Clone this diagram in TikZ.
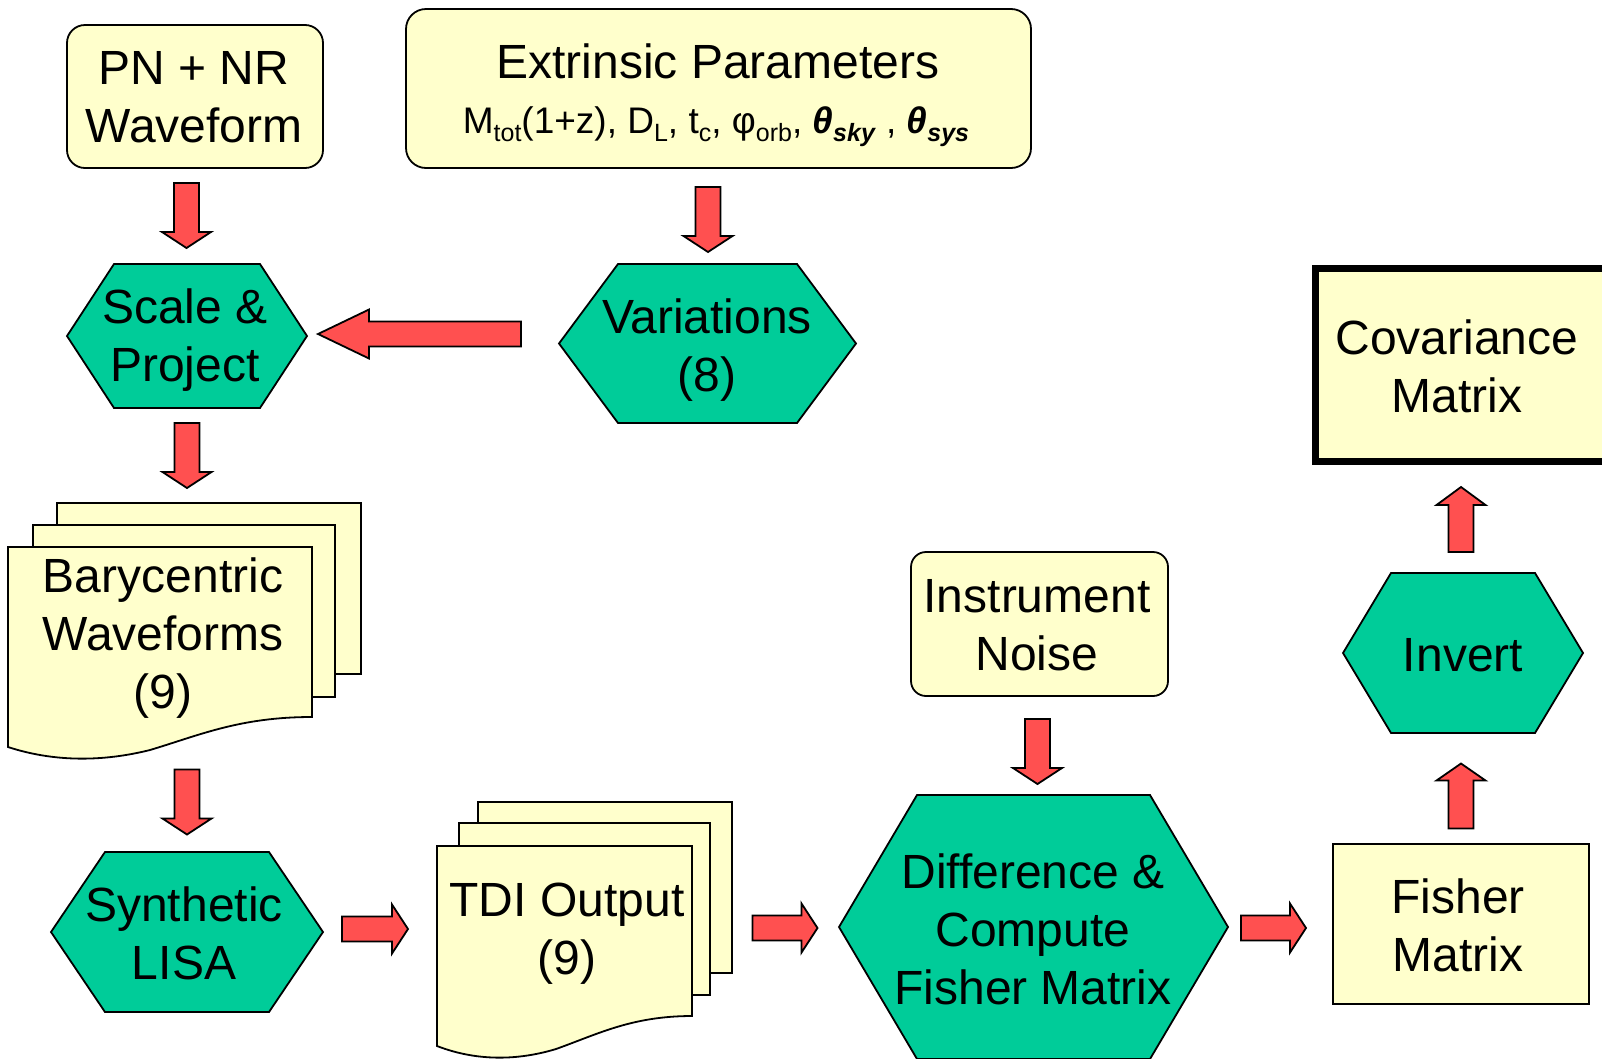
\documentclass[tikz,border=0pt]{standalone}
\usepackage{fontspec}
\setmainfont{Liberation Sans}
\definecolor{boxyellow}{HTML}{FFFFCC}
\definecolor{hexgreen}{HTML}{00CC99}
\definecolor{arrred}{HTML}{FF5050}
\newcommand\subtx[1]{\raisebox{-0.22em}{\fontsize{25}{25}\selectfont #1}}
\tikzset{
  yellowbox/.style={draw=black, fill=boxyellow, line width=1.8pt},
  hexfill/.style={draw=black, fill=hexgreen, line width=1.8pt, line join=miter},
  arrowshape/.style={draw=black, fill=arrred, line width=1.8pt, line join=miter},
  lbl/.style={font=\fontsize{48}{58}\selectfont, align=center, inner sep=0pt, text=black},
  pics/fatarrow/.style args={#1/#2}{code={
    \draw[arrowshape] (-12.5,-#1/2) -- (12.5,-#1/2) -- (12.5,#1/2-#2) -- (24.5,#1/2-#2)
      -- (0,#1/2) -- (-24.5,#1/2-#2) -- (-12.5,#1/2-#2) -- cycle;}},
  pics/hexa/.style args={#1/#2/#3}{code={
    \draw[hexfill] (-#1,0) -- (-#1+#2,-#3) -- (#1-#2,-#3) -- (#1,0) -- (#1-#2,#3)
      -- (-#1+#2,#3) -- cycle;}}
}
\begin{document}
\begin{tikzpicture}[x=1pt,y=-1pt]
\useasboundingbox (0,0) rectangle (1602,1058);
\clip (0,0) rectangle (1602,1058);
\fill[white] (0,0) rectangle (1602,1058);

% top boxes
\draw[yellowbox, rounded corners=18pt] (67,25) rectangle (323,168);
\node[lbl] (pn) at (194,97) {PN + NR\\Waveform};
\draw[yellowbox, rounded corners=20pt] (406,9) rectangle (1031,168);
\node[lbl] (ext) at (718,61) {Extrinsic Parameters};
\node[inner sep=0pt, font=\fontsize{37}{40}\selectfont] (extp) at (716,127)
  {M\subtx{tot}(1+z), D\subtx{L}, t\subtx{c}, φ\subtx{orb}, \textbf{\textit{θ}}\subtx{\textbf{\textit{sky}}} , \textbf{\textit{θ}}\subtx{\textbf{\textit{sys}}}};

% hexagons
\pic at (187,336) {hexa=120/47/72};
\node[lbl] (scale) at (185,340) {Scale \&\\Project};
\pic at (707.5,343.5) {hexa=148.5/59/79.5};
\node[lbl] (var) at (707,350) {Variations\\(8)};
\pic at (187,932) {hexa=136/54/80};
\node[lbl] (lisa) at (184,933) {Synthetic\\LISA};
\pic at (1033.5,927) {hexa=194.5/78/132};
\node[lbl] (diff) at (1033,929) {Difference \&\\Compute\\Fisher Matrix};
\pic at (1463,653) {hexa=120/48/80};
\node[lbl] (inv) at (1463,655) {Invert};

% barycentric stack
\draw[yellowbox] (57,503) rectangle (361,674);
\draw[yellowbox] (33,525) rectangle (335,697);
\draw[yellowbox] (8,547) -- (312,547) -- (312,717) .. controls (240,717) and (200,735) .. (150,750)
  .. controls (110,760) and (60,764) .. (8,747) -- cycle;
\node[lbl] (bary) at (163,638) {Barycentric\\Waveforms\\(9)};

% TDI stack
\draw[yellowbox] (478,802) rectangle (732,973);
\draw[yellowbox] (459,823) rectangle (710,995);
\draw[yellowbox] (437,846) -- (692,846) -- (692,1016) .. controls (632,1016) and (598,1034) .. (556,1049)
  .. controls (523,1059) and (481,1063) .. (437,1046) -- cycle;
\node[lbl] (tdi) at (567,934) {TDI Output\\(9)};

% right side boxes
\draw[yellowbox, rounded corners=15pt] (911,552) rectangle (1168,696);
\node[lbl] (noise) at (1037,625) {Instrument\\Noise};
\draw[yellowbox] (1333,844) rectangle (1589,1004);
\node[lbl] (fisher) at (1458,925) {Fisher\\Matrix};
\draw[draw=black, fill=boxyellow, line width=7pt] (1315.5,268.5) rectangle (1640,461.5);
\node[lbl] (cov) at (1457,366) {Covariance\\Matrix};

% block arrows
\pic at (186.5,215.5) {fatarrow=65/16};
\pic at (708,219.5) {fatarrow=65/16};
\pic[rotate=-90] at (419.5,334) {fatarrow=203/51};
\pic at (187,455.5) {fatarrow=65/16};
\pic at (187,802) {fatarrow=65/16};
\pic[rotate=90] at (375,929) {fatarrow=66/16};
\pic[rotate=90] at (785,928) {fatarrow=65/16};
\pic at (1037.5,751.5) {fatarrow=65/16};
\pic[rotate=90] at (1273.5,928) {fatarrow=65/16};
\pic[rotate=180] at (1461,796) {fatarrow=65/17};
\pic[rotate=180] at (1461,519.5) {fatarrow=65/18};
\end{tikzpicture}
\end{document}
